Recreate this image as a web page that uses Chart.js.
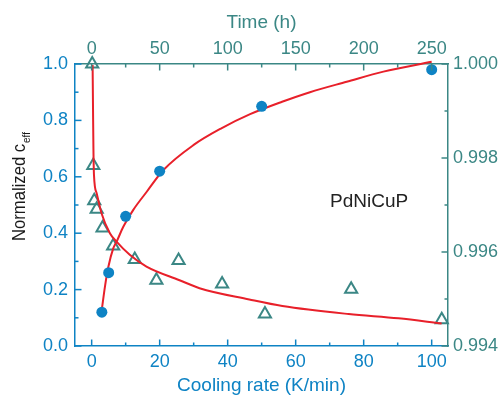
<!DOCTYPE html>
<html lang="en">
<head>
<meta charset="UTF-8">
<title>PdNiCuP normalized c_eff</title>
<script src="https://cdn.jsdelivr.net/npm/chart.js"></script>
<style>
  body { margin: 0; background: #fff; }
  #wrap { width: 501px; height: 397px; }
</style>
</head>
<body>
<div id="wrap"><canvas id="chart" width="501" height="397"></canvas></div>
<script>
// cooling rate data (bottom + left axes)
var rates = [3, 5, 10, 20, 50, 100];
var ceff = [0.12, 0.26, 0.46, 0.62, 0.85, 0.98];
var rateFitX = [3, 3.9, 4.9, 6.35, 7.35, 9.3, 12.2, 16.2, 21.1, 30, 38, 46.6, 56, 64.2, 75, 85.8, 100];
var rateFitY = [0.13, 0.21, 0.28, 0.346, 0.37, 0.423, 0.482, 0.547, 0.624, 0.713, 0.771, 0.822, 0.866, 0.9, 0.937, 0.973, 1.008];

// aging time data (top + right axes)
var times = [0.4, 1.2, 1.9, 3.7, 8.0, 15.8, 31.7, 47.6, 63.9, 95.9, 127.4, 190.8, 257.4];
var timeVals = [1.0000, 0.99784, 0.99709, 0.99691, 0.99651, 0.99613, 0.99584, 0.99540, 0.99582, 0.99532, 0.99468, 0.99521, 0.99456];
var timeFitX = [0.7, 1.0, 1.3, 1.7, 3.66, 7.3, 13.4, 18.3, 28.0, 40.3, 64.6, 79.3, 115.9, 140.2, 189, 225.6, 257.3];
var timeFitY = [0.99998, 0.99905, 0.9982, 0.99764, 0.99725, 0.99682, 0.99640, 0.99622, 0.99594, 0.99569, 0.99540, 0.99523, 0.99499, 0.99485, 0.99468, 0.99459, 0.99448];

// axis ticks (all ticks, and the labelled ones)
var rateTicks = [0, 10, 20, 30, 40, 50, 60, 70, 80, 90, 100];
var rateLabels = [0, 20, 40, 60, 80, 100];
var timeTicks = [0, 25, 50, 75, 100, 125, 150, 175, 200, 225, 250];
var timeLabels = [0, 50, 100, 150, 200, 250];
var ceffTicks = [0, 0.1, 0.2, 0.3, 0.4, 0.5, 0.6, 0.7, 0.8, 0.9, 1.0];
var ceffLabels = [0, 0.2, 0.4, 0.6, 0.8, 1.0];
var rightTicks = [0.994, 0.995, 0.996, 0.997, 0.998, 0.999, 1.000];
var rightLabels = [0.994, 0.996, 0.998, 1.000];

var blue = '#0e83c4';
var teal = '#3b8785';
var red = '#e8202a';
var fontFamily = "'Liberation Sans', Arial, sans-serif";

function pts(xs, ys) {
    return xs.map(function(x, i) { return {x: x, y: ys[i]}; });
}
function hasLabel(list, v) {
    return list.some(function(l) { return Math.abs(l - v) < 1e-9; });
}
function setTicks(list) {
    return function(scale) {
        scale.ticks = list.map(function(v) { return {value: v}; });
    };
}
function fixSize(w, h) {
    return function(scale) {
        if (w) scale.width = w;
        if (h) scale.height = h;
    };
}

// ticks pointing into the plot, long for labelled ones
var innerTicks = {
    id: 'innerTicks',
    afterDraw: function(chart) {
        var ctx = chart.ctx, area = chart.chartArea;
        var majors = {x: rateLabels, x2: timeLabels, y: ceffLabels, y2: rightLabels};
        ctx.save();
        ['x', 'x2', 'y', 'y2'].forEach(function(id) {
            var scale = chart.scales[id];
            ctx.strokeStyle = scale.options.border.color;
            ctx.lineWidth = 1.5;
            scale.ticks.forEach(function(t) {
                var p = scale.getPixelForValue(t.value);
                var len = hasLabel(majors[id], t.value) ? 6.5 : 3.5;
                ctx.beginPath();
                if (id === 'x') { ctx.moveTo(p, area.bottom); ctx.lineTo(p, area.bottom - len); }
                if (id === 'x2') { ctx.moveTo(p, area.top); ctx.lineTo(p, area.top + len); }
                if (id === 'y') { ctx.moveTo(area.left, p); ctx.lineTo(area.left + len, p); }
                if (id === 'y2') { ctx.moveTo(area.right, p); ctx.lineTo(area.right - len, p); }
                ctx.stroke();
            });
        });
        ctx.restore();
    }
};

// rotated y title with subscript, and the alloy label
var extraText = {
    id: 'extraText',
    afterDraw: function(chart) {
        var ctx = chart.ctx;
        ctx.save();
        ctx.fillStyle = '#1a1a1a';
        ctx.translate(25, 241);
        ctx.rotate(-Math.PI / 2);
        ctx.scale(0.9, 1);
        ctx.textBaseline = 'alphabetic';
        ctx.font = '18.5px ' + fontFamily;
        ctx.fillText('Normalized c', 0, 0);
        var w = ctx.measureText('Normalized c').width;
        ctx.font = '11px ' + fontFamily;
        ctx.fillText('eff', w + 1, 5);
        ctx.restore();

        ctx.save();
        ctx.fillStyle = '#222';
        ctx.font = '19px ' + fontFamily;
        ctx.textBaseline = 'alphabetic';
        ctx.fillText('PdNiCuP', chart.scales.x.getPixelForValue(70.1), chart.scales.y.getPixelForValue(0.494));
        ctx.restore();
    }
};

var tickFont = {family: fontFamily, size: 18};
var titleFont = {family: fontFamily, size: 19};

new Chart(document.getElementById('chart'), {
    type: 'scatter',
    data: {
        datasets: [
            {
                label: 'c_eff vs cooling rate',
                data: pts(rates, ceff),
                xAxisID: 'x', yAxisID: 'y',
                pointStyle: 'circle',
                pointRadius: 5.5,
                backgroundColor: blue,
                borderColor: blue,
                borderWidth: 0,
                clip: false
            },
            {
                label: 'fit (cooling rate)',
                data: pts(rateFitX, rateFitY),
                xAxisID: 'x', yAxisID: 'y',
                showLine: true,
                borderColor: red,
                borderWidth: 2,
                pointRadius: 0,
                cubicInterpolationMode: 'monotone',
                clip: false
            },
            {
                label: 'fit (time)',
                data: pts(timeFitX, timeFitY),
                xAxisID: 'x2', yAxisID: 'y2',
                showLine: true,
                borderColor: red,
                borderWidth: 2,
                pointRadius: 0,
                cubicInterpolationMode: 'monotone',
                clip: false
            },
            {
                label: 'c_eff vs time',
                data: pts(times, timeVals),
                xAxisID: 'x2', yAxisID: 'y2',
                pointStyle: 'triangle',
                pointRadius: 7,
                backgroundColor: 'rgba(0,0,0,0)',
                borderColor: teal,
                borderWidth: 2,
                clip: false
            }
        ]
    },
    options: {
        responsive: false,
        animation: false,
        layout: {padding: 0},
        plugins: {
            legend: {display: false},
            tooltip: {enabled: false}
        },
        scales: {
            x: {
                type: 'linear', position: 'bottom',
                min: -4.9, max: 104.8,
                afterBuildTicks: setTicks(rateTicks),
                afterFit: fixSize(null, 51),
                grid: {display: false, drawTicks: false},
                border: {display: true, color: blue, width: 1.5},
                ticks: {
                    color: blue, font: tickFont, padding: 5, maxRotation: 0, autoSkip: false,
                    callback: function(v) { return hasLabel(rateLabels, v) ? String(v) : ''; }
                },
                title: {display: true, text: 'Cooling rate (K/min)', color: blue, font: titleFont, padding: {top: 0, bottom: 0}}
            },
            x2: {
                type: 'linear', position: 'top',
                min: -12.25, max: 262,
                afterBuildTicks: setTicks(timeTicks),
                afterFit: fixSize(null, 64),
                grid: {display: false, drawTicks: false},
                border: {display: true, color: teal, width: 1.5},
                ticks: {
                    color: teal, font: tickFont, padding: 4, maxRotation: 0, autoSkip: false,
                    callback: function(v) { return hasLabel(timeLabels, v) ? String(v) : ''; }
                },
                title: {display: true, text: 'Time (h)', color: teal, font: titleFont, padding: {top: 11, bottom: 0}}
            },
            y: {
                type: 'linear', position: 'left',
                min: 0, max: 1,
                afterBuildTicks: setTicks(ceffTicks),
                afterFit: fixSize(75, null),
                grid: {display: false, drawTicks: false},
                border: {display: true, color: blue, width: 1.5},
                ticks: {
                    color: blue, font: tickFont, padding: 7, autoSkip: false,
                    callback: function(v) { return hasLabel(ceffLabels, v) ? v.toFixed(1) : ''; }
                }
            },
            y2: {
                type: 'linear', position: 'right',
                min: 0.994, max: 1.0,
                afterBuildTicks: setTicks(rightTicks),
                afterFit: fixSize(53, null),
                grid: {display: false, drawTicks: false},
                border: {display: true, color: teal, width: 1.5},
                ticks: {
                    color: teal, font: tickFont, padding: 5, autoSkip: false,
                    callback: function(v) { return hasLabel(rightLabels, v) ? v.toFixed(3) : ''; }
                }
            }
        }
    },
    plugins: [innerTicks, extraText]
});
</script>
</body>
</html>
